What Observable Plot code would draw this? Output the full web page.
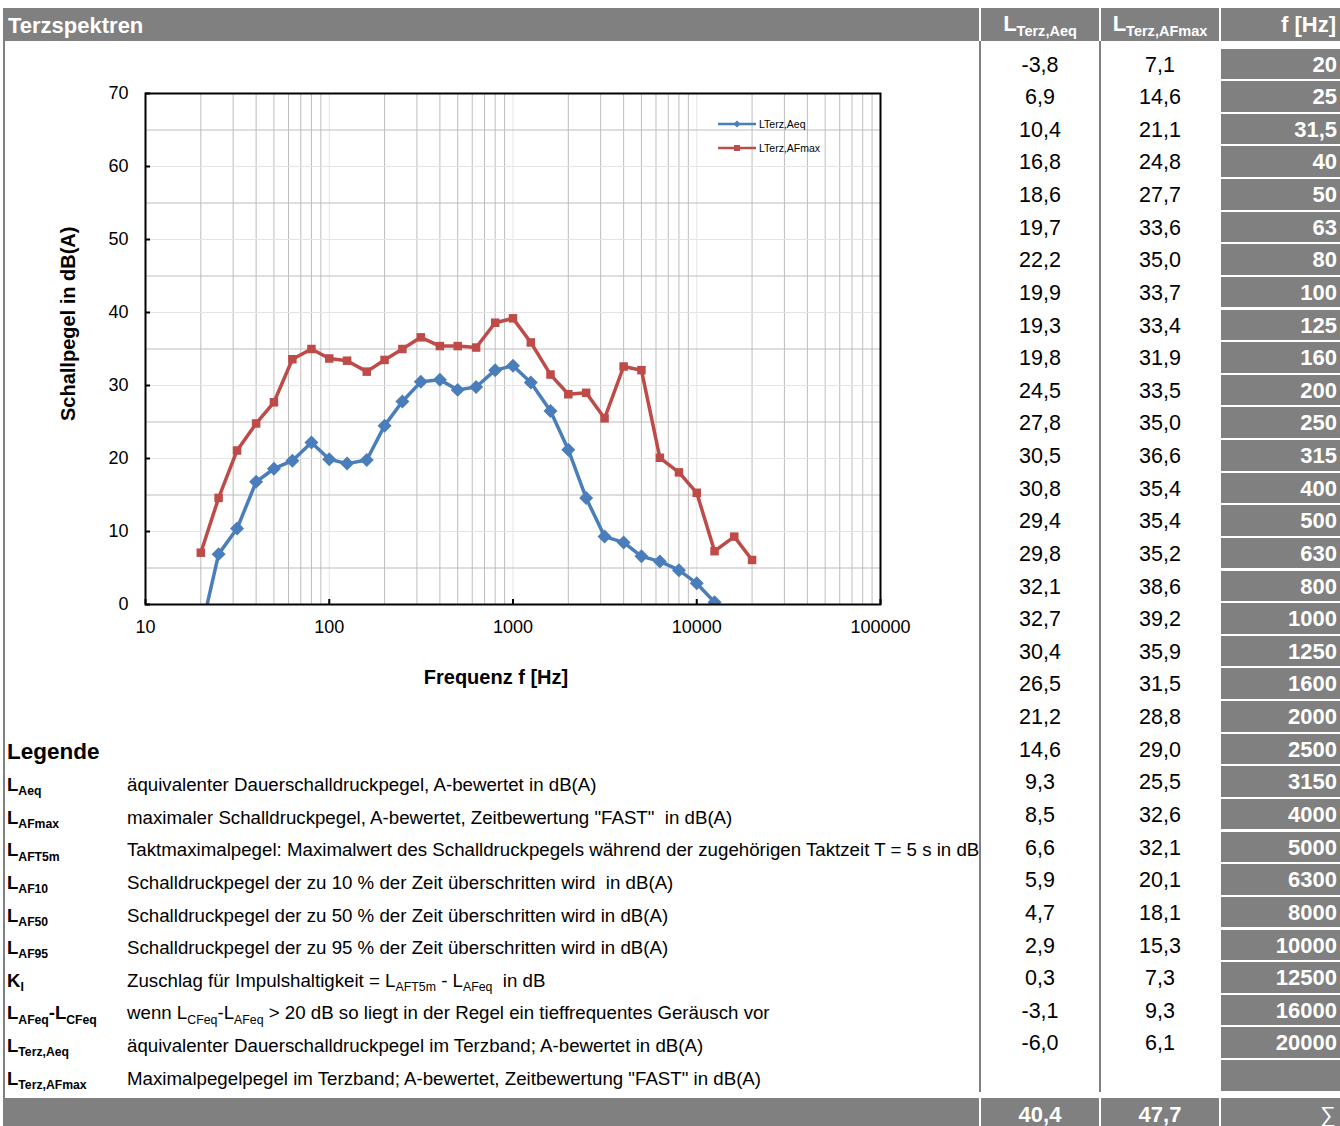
<!DOCTYPE html>
<html><head><meta charset="utf-8">
<script src="https://cdn.jsdelivr.net/npm/d3@7"></script>
<script src="https://cdn.jsdelivr.net/npm/@observablehq/plot@0.6"></script>
<style>
body{margin:0;background:#fff;}
#page{position:relative;width:1340px;height:1126px;overflow:hidden;font-family:"Liberation Sans",Arial,Helvetica,sans-serif;color:#000;}
.abs{position:absolute;white-space:nowrap;}
.grey{background:#808080;color:#fff;font-weight:bold;}
.sub{font-size:66%;position:relative;top:0.35em;}
</style></head><body><div id="page"></div>
<script>
// ---------- data ----------
const freqs = [20,25,31.5,40,50,63,80,100,125,160,200,250,315,400,500,630,800,1000,1250,1600,2000,2500,3150,4000,5000,6300,8000,10000,12500,16000,20000];
const freqLabels = ["20","25","31,5","40","50","63","80","100","125","160","200","250","315","400","500","630","800","1000","1250","1600","2000","2500","3150","4000","5000","6300","8000","10000","12500","16000","20000"];
const aeq = [-3.8,6.9,10.4,16.8,18.6,19.7,22.2,19.9,19.3,19.8,24.5,27.8,30.5,30.8,29.4,29.8,32.1,32.7,30.4,26.5,21.2,14.6,9.3,8.5,6.6,5.9,4.7,2.9,0.3,-3.1,-6.0];
const afmax = [7.1,14.6,21.1,24.8,27.7,33.6,35.0,33.7,33.4,31.9,33.5,35.0,36.6,35.4,35.4,35.2,38.6,39.2,35.9,31.5,28.8,29.0,25.5,32.6,32.1,20.1,18.1,15.3,7.3,9.3,6.1];
const sums = [40.4, 47.7];
const seriesNames = ["LTerz,Aeq","LTerz,AFmax"];
const xTicks = [10,100,1000,10000,100000];
const yTicks = [0,10,20,30,40,50,60,70];
const yMinorGrid = [5,15,25,35,45,55,65];
const yMajorGrid = [10,20,30,40,50,60];
const xMajorGrid = [100,1000,10000];
const xMinorGrid = [10,100,1000,10000].flatMap(k => [2,3,4,5,6,7,8,9].map(m => m*k));
const legendTerms = [
  ["L","Aeq"],["L","AFmax"],["L","AFT5m"],["L","AF10"],["L","AF50"],["L","AF95"],["K","I"],
  ["L","AFeq","-L","CFeq"],["L","Terz,Aeq"],["L","Terz,AFmax"]
];
const legendTexts = [
  'äquivalenter Dauerschalldruckpegel, A-bewertet in dB(A)',
  'maximaler Schalldruckpegel, A-bewertet, Zeitbewertung "FAST"&nbsp; in dB(A)',
  'Taktmaximalpegel: Maximalwert des Schalldruckpegels während der zugehörigen Taktzeit T = 5 s in dB(A)',
  'Schalldruckpegel der zu 10 % der Zeit überschritten wird&nbsp; in dB(A)',
  'Schalldruckpegel der zu 50 % der Zeit überschritten wird in dB(A)',
  'Schalldruckpegel der zu 95 % der Zeit überschritten wird in dB(A)',
  'Zuschlag für Impulshaltigkeit = L<span class="sub">AFT5m</span> - L<span class="sub">AFeq</span>&nbsp; in dB',
  'wenn L<span class="sub">CFeq</span>-L<span class="sub">AFeq</span> &gt; 20 dB so liegt in der Regel ein tieffrequentes Geräusch vor',
  'äquivalenter Dauerschalldruckpegel im Terzband; A-bewertet in dB(A)',
  'Maximalpegelpegel im Terzband; A-bewertet, Zeitbewertung "FAST" in dB(A)'
];

const blue = "#4a7ebb", red = "#be4b48", grey = "#808080";
const fmt = v => d3.format(".1f")(v).replace(".", ",").replace("−", "-");
const page = document.getElementById("page");
function add(html, style, cls) {
  const d = document.createElement("div");
  d.className = "abs " + (cls || "");
  d.innerHTML = html;
  Object.assign(d.style, style);
  page.appendChild(d);
  return d;
}
const termHtml = t => {
  let s = "";
  for (let i = 0; i < t.length; i += 2) s += t[i] + (t[i+1] ? `<span class="sub">${t[i+1]}</span>` : "");
  return s;
};

// ---------- header ----------
add("", {left:"3px", top:"8px", width:"1337px", height:"33px"}, "grey");
add("Terzspektren", {left:"8px", top:"9px", height:"33px", lineHeight:"33px", fontSize:"22px", color:"#fff", fontWeight:"bold"});
[979, 1099, 1219].forEach(x => add("", {left:x+"px", top:"8px", width:"2px", height:"33px", background:"#fff"}));
const colCenters = [1040, 1160];
[["L","Terz,Aeq"],["L","Terz,AFmax"]].forEach((t, i) => {
  add(termHtml(t), {left:(colCenters[i]-60)+"px", width:"120px", textAlign:"center", top:"7px", height:"33px", lineHeight:"33px", fontSize:"22px", color:"#fff", fontWeight:"bold"});
});
add("f [Hz]", {left:"1221px", width:"115px", textAlign:"right", top:"8px", height:"33px", lineHeight:"33px", fontSize:"22px", color:"#fff", fontWeight:"bold"});

// left border
add("", {left:"3px", top:"41px", width:"2px", height:"1057px", background:grey});
// body vertical separators
add("", {left:"979px", top:"41px", width:"2px", height:"1051px", background:grey});
add("", {left:"1099px", top:"41px", width:"2px", height:"1051px", background:grey});

// ---------- table ----------
const rowPitch = 32.63, rowTop0 = 48.5;
for (let i = 0; i <= freqs.length; i++) {
  const top = rowTop0 + i * rowPitch;
  add(i < freqs.length ? freqLabels[i] : "", {left:"1221px", width:"116px", paddingRight:"3px", textAlign:"right", top:top+"px", height:"30.5px", lineHeight:"31px", fontSize:"22px"}, "grey");
  if (i < freqs.length) {
    add(fmt(aeq[i]), {left:"981px", width:"118px", textAlign:"center", top:(top+1)+"px", height:"31px", lineHeight:"31px", fontSize:"21.5px"});
    add(fmt(afmax[i]), {left:"1101px", width:"118px", textAlign:"center", top:(top+1)+"px", height:"31px", lineHeight:"31px", fontSize:"21.5px"});
  }
}

// ---------- bottom bar ----------
add("", {left:"3px", top:"1098px", width:"1337px", height:"28px"}, "grey");
[979, 1099, 1219].forEach(x => add("", {left:x+"px", top:"1098px", width:"2px", height:"28px", background:"#fff"}));
sums.forEach((s, i) => add(fmt(s), {left:(colCenters[i]-60)+"px", width:"120px", textAlign:"center", top:"1100px", height:"30px", lineHeight:"30px", fontSize:"22px", color:"#fff", fontWeight:"bold"}));
add("∑", {left:"1221px", width:"115px", textAlign:"right", top:"1100px", height:"30px", lineHeight:"30px", fontSize:"22px", color:"#fff"});

// ---------- legend text block ----------
const leftBlock = add("", {left:"5px", top:"41px", width:"974px", height:"1057px", overflow:"hidden"});
function addL(html, style) {
  const d = document.createElement("div");
  d.className = "abs"; d.innerHTML = html; Object.assign(d.style, style); leftBlock.appendChild(d);
}
addL("Legende", {left:"2px", top:(752-41-14)+"px", height:"28px", lineHeight:"28px", fontSize:"22.5px", fontWeight:"bold"});
legendTerms.forEach((t, i) => {
  const cy = 785 + i * rowPitch - 41;
  addL(termHtml(t), {left:"2px", top:(cy-13)+"px", height:"26px", lineHeight:"26px", fontSize:"18.5px", fontWeight:"bold"});
  addL(legendTexts[i], {left:"122px", top:(cy-13)+"px", height:"26px", lineHeight:"26px", fontSize:"18.7px"});
});

// ---------- chart ----------
const data = freqs.map((f, i) => ({f, aeq: aeq[i], afmax: afmax[i]}));
const chart = Plot.plot({
  width: 980, height: 700,
  marginLeft: 145, marginRight: 100, marginTop: 52, marginBottom: 137,
  style: {fontFamily: "Liberation Sans, Arial, sans-serif", fontSize: "18px", color: "#000", background: "transparent", overflow: "visible"},
  x: {type: "log", domain: [10, 100000], label: null},
  y: {domain: [0, 70], label: null},
  marks: [
    Plot.ruleX(xMinorGrid, {stroke: "#bdbdbd", strokeWidth: 1}),
    Plot.ruleX(xMajorGrid, {stroke: "#e4e4e4", strokeWidth: 1}),
    Plot.ruleY(yMinorGrid, {stroke: "#bdbdbd", strokeWidth: 1}),
    Plot.ruleY(yMajorGrid, {stroke: "#e4e4e4", strokeWidth: 1}),
    Plot.line(data, {x: "f", y: "aeq", stroke: blue, strokeWidth: 3.5, clip: true}),
    Plot.dot(data, {x: "f", y: "aeq", symbol: "diamond2", fill: blue, r: 6.3, clip: true}),
    Plot.line(data, {x: "f", y: "afmax", stroke: red, strokeWidth: 3.5, clip: true}),
    Plot.dot(data, {x: "f", y: "afmax", symbol: "square", fill: red, r: 4.8, clip: true}),
    Plot.frame({stroke: "#000", strokeWidth: 2}),
    Plot.axisX(xTicks, {tickSize: 5, dy: -5, tickFormat: () => "", strokeWidth: 2, label: null}),
    Plot.axisX(xTicks, {tickSize: 0, tickPadding: 16, tickFormat: d => String(d), fontSize: 18, label: null}),
    Plot.axisY(yTicks, {tickSize: 5, dx: 5, tickFormat: () => "", strokeWidth: 2, label: null}),
    Plot.axisY(yTicks, {tickSize: 0, tickPadding: 17, tickFormat: d => String(d), fontSize: 18, label: null}),
    Plot.text(["Frequenz f [Hz]"], {frameAnchor: "bottom", dx: -17, dy: 79, fontWeight: "bold", fontSize: 20}),
    Plot.text(["Schallpegel in dB(A)"], {frameAnchor: "left", rotate: -90, dx: -77, dy: 72, fontWeight: "bold", fontSize: 20})
  ]
});
const chartWrap = add("", {left:"0px", top:"41px"});
chartWrap.appendChild(chart);

// chart legend (inline)
const lg = add("", {left:"715px", top:"114px", width:"130px", height:"46px"});
lg.innerHTML = `<svg width="130" height="46" style="overflow:visible;font-family:'Liberation Sans',Arial,sans-serif">
  <line x1="3" y1="10" x2="41" y2="10" stroke="${blue}" stroke-width="2.5"/>
  <path d="M22,6.5L25.5,10L22,13.5L18.5,10Z" fill="${blue}"/>
  <text x="44" y="10" dy="0.35em" font-size="10.5px">${seriesNames[0]}</text>
  <line x1="3" y1="34" x2="41" y2="34" stroke="${red}" stroke-width="2.5"/>
  <rect x="19" y="31" width="6" height="6" fill="${red}"/>
  <text x="44" y="34" dy="0.35em" font-size="10.5px">${seriesNames[1]}</text>
</svg>`;
</script></body></html>
